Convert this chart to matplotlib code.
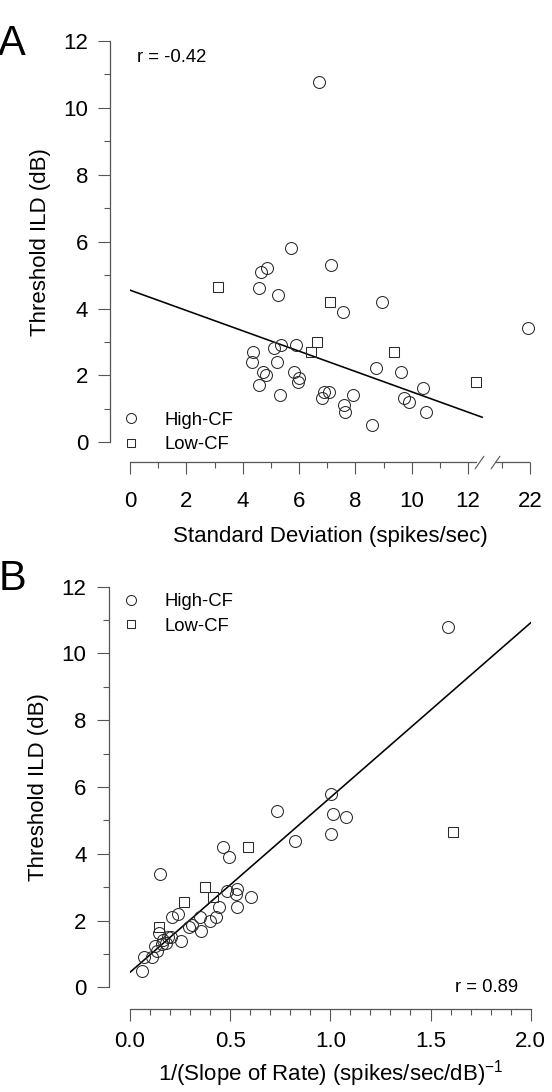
import numpy as np
import matplotlib
matplotlib.use("Agg")
import matplotlib.pyplot as plt
from matplotlib.lines import Line2D
from matplotlib.path import Path

plt.rcParams['font.family'] = ['Liberation Sans', 'DejaVu Sans']
plt.rcParams['mathtext.default'] = 'regular'

# ---------------- Panel A data ----------------
a_high_x = [5.70, 7.15, 4.64, 4.87, 4.57, 5.25, 8.95, 7.56, 21.93, 5.35, 5.11, 5.89,
            4.38, 4.34, 5.22, 4.73, 4.82, 5.82, 6.01, 5.95, 4.58, 5.31, 6.89, 7.08,
            6.80, 7.93, 7.61, 7.64, 8.59, 8.73, 9.61, 10.39, 9.74, 9.89, 10.51, 6.72]
a_high_y = [5.80, 5.30, 5.08, 5.20, 4.60, 4.40, 4.21, 3.91, 3.41, 2.91, 2.83, 2.91,
            2.71, 2.41, 2.41, 2.11, 2.01, 2.11, 1.93, 1.81, 1.71, 1.41, 1.51, 1.51,
            1.32, 1.41, 1.12, 0.92, 0.52, 2.21, 2.11, 1.61, 1.32, 1.21, 0.92, 10.78]
a_low_x = [3.14, 7.10, 6.65, 6.43, 9.36, 12.28]
a_low_y = [4.65, 4.21, 3.01, 2.69, 2.69, 1.81]
a_fit_x = [0.0, 12.5]
a_fit_y = [4.55, 0.75]
a_r_text = "r = -0.42"
a_xticks = [0, 2, 4, 6, 8, 10, 12, 22]
a_xminor = [1, 3, 5, 7, 9, 11, 21]
a_break = [12.39, 20.76]

# ---------------- Panel B data ----------------
b_high_x = [1.002, 1.012, 1.078, 1.005, 0.734, 0.825, 0.463, 0.496, 0.150, 0.484,
            0.533, 0.529, 0.606, 0.536, 0.446, 0.428, 0.399, 0.349, 0.353, 0.296,
            0.310, 0.208, 0.238, 0.253, 0.203, 0.178, 0.167, 0.146, 0.125, 0.133,
            0.108, 0.072, 0.058, 1.586, 0.190, 0.160]
b_high_y = [5.79, 5.19, 5.09, 4.59, 5.29, 4.39, 4.19, 3.89, 3.39, 2.89,
            2.94, 2.80, 2.70, 2.40, 2.40, 2.10, 2.00, 2.10, 1.70, 1.80,
            1.88, 2.10, 2.20, 1.40, 1.50, 1.34, 1.42, 1.62, 1.24, 1.10,
            0.90, 0.90, 0.50, 10.78, 1.50, 1.30]
b_low_x = [0.587, 0.376, 0.271, 0.416, 0.146, 1.61]
b_low_y = [4.19, 3.00, 2.55, 2.70, 1.82, 4.65]
b_fit_x = [0.0, 2.0]
b_fit_y = [0.45, 10.92]
b_r_text = "r = 0.89"
b_xticks = [0.0, 0.5, 1.0, 1.5, 2.0]
b_xminor = [0.1, 0.2, 0.3, 0.4, 0.6, 0.7, 0.8, 0.9, 1.1, 1.2, 1.3, 1.4,
            1.6, 1.7, 1.8, 1.9]

yticks = [0, 2, 4, 6, 8, 10, 12]
yminor = [1, 3, 5, 7, 9, 11]
legend_labels = ["High-CF", "Low-CF"]

# ---------------- styling ----------------
W, H = 552, 1092
DPI = 100
SPINE_C = '#555555'
MARK_C = '#2a2a2a'
TICK_FS = 16
LABEL_FS = 16
SMALL_FS = 13.3

BRK_LO, BRK_HI, GAP_U = 12.6, 20.6, 0.2


def fwd(v):
    v = np.asarray(v, float)
    return np.where(v <= BRK_LO, v,
                    np.where(v >= BRK_HI, v - (BRK_HI - BRK_LO) + GAP_U,
                             BRK_LO + (v - BRK_LO) * GAP_U / (BRK_HI - BRK_LO)))


def inv(u):
    u = np.asarray(u, float)
    return np.where(u <= BRK_LO, u,
                    np.where(u >= BRK_LO + GAP_U, u + (BRK_HI - BRK_LO) - GAP_U,
                             BRK_LO + (u - BRK_LO) * (BRK_HI - BRK_LO) / GAP_U))


fig = plt.figure(figsize=(W / DPI, H / DPI), dpi=DPI)


def px_axes(x0, x1, ytop, ybot):
    return fig.add_axes([x0 / W, 1 - ybot / H, (x1 - x0) / W, (ybot - ytop) / H])


axA = px_axes(130, 530, 41, 442.3)
axB = px_axes(130, 530.7, 586.7, 987.3)


def style(ax, off_px, xpad):
    for s in ['top', 'right']:
        ax.spines[s].set_visible(False)
    for s in ['left', 'bottom']:
        ax.spines[s].set_position(('outward', off_px * 72 / DPI))
        ax.spines[s].set_color(SPINE_C)
        ax.spines[s].set_linewidth(0.9)
    ax.tick_params(which='major', length=8.3, width=0.8, color=SPINE_C,
                   labelsize=TICK_FS, labelcolor='black')
    ax.tick_params(which='minor', length=4.0, width=0.8, color=SPINE_C)
    ax.tick_params(axis='y', pad=7.5)
    ax.tick_params(axis='x', pad=xpad)
    ax.set_yticks(yticks)
    ax.set_yticks(yminor, minor=True)
    ax.set_ylim(0, 12)
    ax.spines['left'].set_bounds(0, 12)
    ax.set_ylabel('Threshold ILD (dB)', fontsize=LABEL_FS, labelpad=9)


def points(ax, hx, hy, lx, ly):
    ax.plot(hx, hy, ls='none', marker='o', ms=8.6, mfc='none', mec=MARK_C,
            mew=0.75, clip_on=False, zorder=3)
    ax.plot(lx, ly, ls='none', marker='s', ms=7.6, mfc='none', mec=MARK_C,
            mew=0.75, clip_on=False, zorder=3)


def legend(ax, center_y_px):
    handles = [Line2D([], [], ls='none', marker='o', ms=7.2, mfc='none', mec=MARK_C, mew=0.75),
               Line2D([], [], ls='none', marker='s', ms=6.0, mfc='none', mec=MARK_C, mew=0.75)]
    fs_px = SMALL_FS * DPI / 72
    left = 130.7 - fs_px * 0.5
    ax.legend(handles, legend_labels, loc='center left', frameon=False,
              fontsize=SMALL_FS, handlelength=1.0, handletextpad=1.35,
              labelspacing=0.4, borderpad=0, borderaxespad=0,
              bbox_to_anchor=(left / W, 1 - center_y_px / H),
              bbox_transform=fig.transFigure)


# ---------------- Panel A ----------------
style(axA, 20, 12.5)
axA.set_xscale('function', functions=(fwd, inv))
axA.set_xlim(0, 22)
axA.set_xticks(a_xticks)
axA.set_xticklabels([str(t) for t in a_xticks])
axA.set_xticks(a_xminor, minor=True)
axA.spines['bottom'].set_bounds(0, 12.3)
st = axA.spines['bottom'].get_spine_transform()
axA.add_line(Line2D([a_break[1], 22], [0, 0], transform=st, color=SPINE_C,
                    lw=0.9, clip_on=False, solid_capstyle='butt'))
slash = Path([(-0.35, -0.5), (0.35, 0.5)], [Path.MOVETO, Path.LINETO])
axA.add_line(Line2D(a_break, [0, 0], transform=st, ls='none', marker=slash,
                    ms=9.4, mec=SPINE_C, mew=0.8, clip_on=False))
axA.plot(a_fit_x, a_fit_y, color='black', lw=1.15, zorder=2)
points(axA, a_high_x, a_high_y, a_low_x, a_low_y)
axA.set_xlim(0, 22)
axA.set_ylim(0, 12)
axA.text(0.24, 11.5, a_r_text, fontsize=SMALL_FS, ha='left', va='center')
axA.set_xlabel('Standard Deviation (spikes/sec)', fontsize=LABEL_FS, labelpad=10)
legend(axA, 432.5)

# ---------------- Panel B ----------------
style(axB, 21.5, 7.8)
axB.set_xlim(0, 2)
axB.set_xticks(b_xticks)
axB.set_xticklabels([f"{t:.1f}" for t in b_xticks])
axB.set_xticks(b_xminor, minor=True)
axB.spines['bottom'].set_bounds(0, 2)
axB.plot(b_fit_x, b_fit_y, color='black', lw=1.15, zorder=2)
points(axB, b_high_x, b_high_y, b_low_x, b_low_y)
axB.set_xlim(0, 2)
axB.set_ylim(0, 12)
axB.text(1.935, 0.0, b_r_text, fontsize=SMALL_FS, ha='right', va='center')
axB.set_xlabel('1/(Slope of Rate) (spikes/sec/dB)$^{-1}$', fontsize=LABEL_FS, labelpad=4)
legend(axB, 613.9)

# ---------------- panel letters ----------------
fig.text(-0.003, 1 - 55 / H, 'A', fontsize=30, ha='left', va='baseline')
fig.text(-0.003, 1 - 590 / H, 'B', fontsize=30, ha='left', va='baseline')

fig.savefig('out.png', dpi=DPI)
